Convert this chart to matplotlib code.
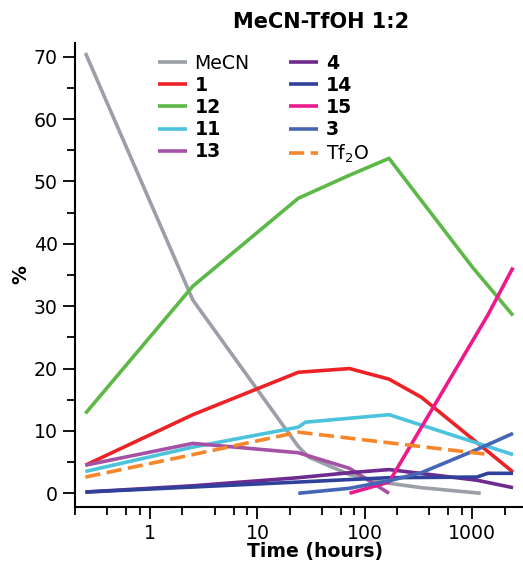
import matplotlib
matplotlib.use("Agg")
import matplotlib.pyplot as plt
from matplotlib.ticker import FixedLocator, NullFormatter, FixedFormatter

# ---- data (hours, %) ----
t_mecn = [0.25, 2.5, 24, 30, 72, 168, 336, 1200]
y_mecn = [70.6, 31.0, 7.5, 5.8, 3.0, 1.6, 0.9, 0.0]

t_1 = [0.25, 2.5, 24, 72, 168, 336, 2400]
y_1 = [4.5, 12.6, 19.4, 20.0, 18.3, 15.4, 3.4]

t_12 = [0.25, 2.5, 24, 72, 168, 1000, 2400]
y_12 = [12.8, 33.2, 47.3, 51.0, 53.7, 36.3, 28.5]

t_11 = [0.25, 2.5, 24, 28, 168, 2400]
y_11 = [3.5, 7.4, 10.6, 11.4, 12.6, 6.2]

t_13 = [0.25, 2.5, 24, 72, 168]
y_13 = [4.5, 8.0, 6.5, 4.0, 0.0]

t_4 = [0.25, 2.5, 24, 72, 168, 1100, 2400]
y_4 = [0.2, 1.2, 2.5, 3.3, 3.8, 2.1, 0.9]

t_14 = [0.25, 2.5, 24, 72, 168, 1100, 1400, 2400]
y_14 = [0.2, 1.0, 1.8, 2.2, 2.5, 2.6, 3.2, 3.2]

t_15 = [72, 168, 1400, 2400]
y_15 = [0.0, 1.8, 28.6, 36.2]

t_3 = [24, 72, 168, 336, 1100, 2400]
y_3 = [0.0, 0.8, 2.0, 3.3, 7.0, 9.6]

t_tf2o = [0.25, 2.5, 24, 1300]
y_tf2o = [2.6, 6.2, 9.8, 6.3]

x_ticks = [1, 10, 100, 1000]
x_ticklabels = ["1", "10", "100", "1000"]
y_ticks = [0, 10, 20, 30, 40, 50, 60, 70]

plt.rcParams['font.family'] = ['DejaVu Sans']

W, H = 523, 563
fig = plt.figure(figsize=(W / 100, H / 100), dpi=100)
ax_left, ax_right_px = 75, 555
ax_bottom_px, ax_top_px = 507, 43
ax = fig.add_axes([ax_left / W, 1 - ax_bottom_px / H,
                   (ax_right_px - ax_left) / W, (ax_bottom_px - ax_top_px) / H])

lw = 2.6
series = [
    (t_mecn, y_mecn, "MeCN", "#9b9fa7", "-", "normal"),
    (t_1, y_1, "1", "#ec2227", "-", "bold"),
    (t_12, y_12, "12", "#5cb947", "-", "bold"),
    (t_11, y_11, "11", "#4cc3dc", "-", "bold"),
    (t_13, y_13, "13", "#a552a6", "-", "bold"),
    (t_4, y_4, "4", "#6d2b8f", "-", "bold"),
    (t_14, y_14, "14", "#2f419b", "-", "bold"),
    (t_15, y_15, "15", "#ec1a8c", "-", "bold"),
    (t_3, y_3, "3", "#4565b5", "-", "bold"),
    (t_tf2o, y_tf2o, "Tf$_2$O", "#f7862a", "--", "normal"),
]
weights = []
for t, y, lab, col, ls, wt in series:
    kw = {}
    if ls == "--":
        kw["dashes"] = (4.2, 1.8)
    ax.plot(t, y, color=col, lw=lw, ls=ls, label=lab, solid_capstyle="butt", **kw)
    weights.append(wt)

ax.set_xscale("log")
ax.set_xlim(0.2, 10 ** ((ax_right_px - 150) / 107.4))
ax.set_ylim(-2.2, 72.2)

ax.xaxis.set_major_locator(FixedLocator(x_ticks))
ax.xaxis.set_major_formatter(FixedFormatter(x_ticklabels))
minors = [m * 10 ** e for e in range(-1, 4) for m in (2, 4, 6, 8)]
ax.xaxis.set_minor_locator(FixedLocator(minors))
ax.xaxis.set_minor_formatter(NullFormatter())
ax.yaxis.set_major_locator(FixedLocator(y_ticks))
ax.yaxis.set_minor_locator(FixedLocator([5, 15, 25, 35, 45, 55, 65]))

for s in ("top", "right"):
    ax.spines[s].set_visible(False)
for s in ("left", "bottom"):
    ax.spines[s].set_linewidth(1.5)

ax.tick_params(which="major", length=8.5, width=1.3, labelsize=13.6, pad=4)
ax.tick_params(which="minor", length=5.5, width=1.3)

ax.set_xlabel("Time (hours)", fontsize=13.6, fontweight="bold", labelpad=-1)
ax.set_ylabel("%", fontsize=13.6, fontweight="bold", labelpad=2)

fig.text(321 / W, 1 - 22.5 / H, "MeCN-TfOH 1:2", fontsize=15, fontweight="bold",
         ha="center", va="center")

leg = ax.legend(loc="upper left", bbox_to_anchor=(150 / W, 1 - 46 / H),
                bbox_transform=fig.transFigure, borderaxespad=0, frameon=False,
                ncol=2, fontsize=13.6, handlelength=1.55, handletextpad=0.4,
                columnspacing=2.1, labelspacing=0.17)
for txt, wt in zip(leg.get_texts(), weights):
    txt.set_fontweight(wt)

fig.savefig("out.png", dpi=100)
